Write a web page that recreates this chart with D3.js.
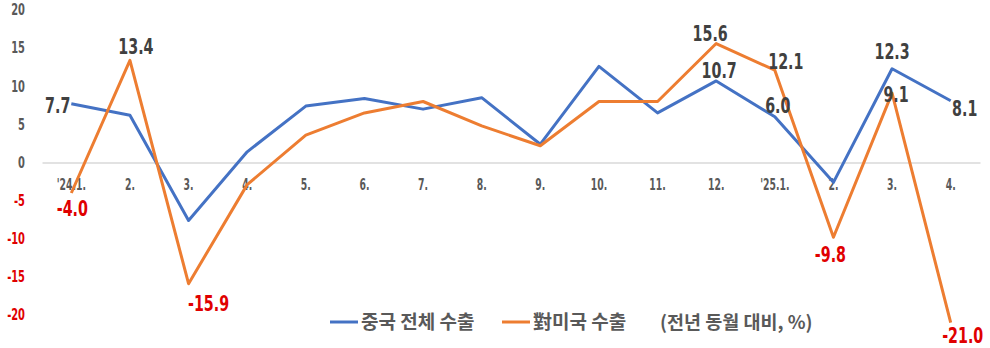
<!DOCTYPE html>
<html>
<head>
<meta charset="utf-8">
<script src="https://cdn.jsdelivr.net/npm/d3@7"></script>
<style>
  html, body { margin: 0; padding: 0; background: #fff; }
  svg { display: block; }
  .num { font-family: "DejaVu Sans", sans-serif; font-weight: bold; }
  .kr { font-family: "Noto Sans CJK KR", "Noto Sans", sans-serif; font-weight: bold; }
</style>
</head>
<body>
<svg id="chart" width="990" height="348"></svg>
<script>
// Month labels (year-on-year change in %)
const months = ["'24.1.", "2.", "3.", "4.", "5.", "6.", "7.", "8.", "9.", "10.", "11.", "12.", "'25.1.", "2.", "3.", "4."];

// China's total exports, y/y %
const totalExports = [7.7, 6.2, -7.6, 1.4, 7.4, 8.4, 7.0, 8.5, 2.4, 12.6, 6.5, 10.7, 6.0, -2.6, 12.3, 8.1];

// Exports to the United States, y/y %
const usExports = [-4.0, 13.4, -15.9, -2.9, 3.6, 6.5, 8.0, 4.8, 2.2, 8.0, 8.0, 15.6, 12.1, -9.8, 9.1, -21.0];

const yTicks = [20, 15, 10, 5, 0, -5, -10, -15, -20];

const seriesNames = ["중국 전체 수출", "對미국 수출"];
const unitNote = "(전년 동월 대비, %)";

// Points whose values are written on the chart: [series index, month index]
const labelled = [
  [0, 0], [0, 11], [0, 12], [0, 14], [0, 15],
  [1, 0], [1, 1], [1, 2], [1, 11], [1, 12], [1, 13], [1, 14], [1, 15]
];

// Label nudges relative to the point (dx, dy to baseline), keyed "series-month"
const labelNudge = {
  "0-0": [-1, 9, "end"], "0-11": [3, -3], "0-12": [3, -4], "0-14": [0, -10], "0-15": [14, 15],
  "1-0": [1, 23], "1-1": [6, -6], "1-2": [20, 27], "1-11": [-6, -3], "1-12": [11, -1],
  "1-13": [-3, 25], "1-14": [4, 9], "1-15": [12, 20]
};

const colors = ["#4472c4", "#ed7d31"];
const svg = d3.select("#chart");

// plain hyphen for negatives
const fmtInt = v => String(v);
const fmt1 = v => d3.format(".1f")(v).replace("\u2212", "-");

const x = d3.scaleBand().domain(d3.range(months.length)).range([42, 980]);
const y = d3.scaleLinear().domain([-20, 20]).range([315, 10]);
const cx = i => x(i) + x.bandwidth() / 2;

// Y axis tick labels (horizontally squeezed for a condensed look)
const yAxis = svg.append("g")
  .attr("transform", "translate(25,0)")
  .call(d3.axisLeft(y).tickValues(yTicks).tickSize(0).tickPadding(0).tickFormat(fmtInt));
yAxis.select(".domain").remove();
yAxis.selectAll("text")
  .attr("class", "num")
  .attr("font-size", 15)
  .attr("transform", "scale(0.66,1)")
  .attr("fill", d => d < 0 ? "#e00000" : "#595959");

// Category axis along zero
const xAxis = svg.append("g")
  .attr("transform", `translate(0,${y(0)})`)
  .call(d3.axisBottom(x).tickSize(0).tickPadding(16).tickFormat(i => months[i]));
xAxis.select(".domain").attr("stroke", "#d9d9d9").attr("stroke-width", 1.3);
xAxis.selectAll("text")
  .attr("class", "num")
  .attr("font-size", 16)
  .attr("transform", "scale(0.58,1)")
  .attr("fill", "#595959");

// Lines
const line = d3.line().x((d, i) => cx(i)).y(d => y(d));
[totalExports, usExports].forEach((vals, s) => {
  svg.append("path")
    .datum(vals)
    .attr("fill", "none")
    .attr("stroke", colors[s])
    .attr("stroke-width", 3)
    .attr("stroke-linejoin", "round")
    .attr("d", line);
});

// Value labels
const seriesVals = [totalExports, usExports];
svg.append("g").selectAll("text")
  .data(labelled)
  .join("text")
  .attr("class", "num")
  .attr("font-size", 21)
  .attr("text-anchor", d => labelNudge[d.join("-")][2] || "middle")
  .attr("transform", d => {
    const n = labelNudge[d.join("-")];
    return `translate(${cx(d[1]) + n[0]},${y(seriesVals[d[0]][d[1]]) + n[1]}) scale(0.68,1)`;
  })
  .attr("fill", d => seriesVals[d[0]][d[1]] < 0 ? "#e00000" : "#404040")
  .text(d => fmt1(seriesVals[d[0]][d[1]]));

// Legend
const legend = svg.append("g").attr("transform", "translate(0,322)");
const legendX = [330, 502];
seriesNames.forEach((name, s) => {
  legend.append("line")
    .attr("x1", legendX[s]).attr("x2", legendX[s] + 28)
    .attr("y1", 0).attr("y2", 0)
    .attr("stroke", colors[s]).attr("stroke-width", 3);
  legend.append("text")
    .attr("class", "kr")
    .attr("x", legendX[s] + 31).attr("y", 0)
    .attr("dy", "0.36em")
    .attr("font-size", 19)
    .attr("fill", "#595959")
    .text(name);
});
legend.append("text")
  .attr("class", "kr")
  .attr("x", 660).attr("y", 0)
  .attr("dy", "0.36em")
  .attr("font-size", 18.5)
  .attr("fill", "#595959")
  .text(unitNote);
</script>
</body>
</html>
